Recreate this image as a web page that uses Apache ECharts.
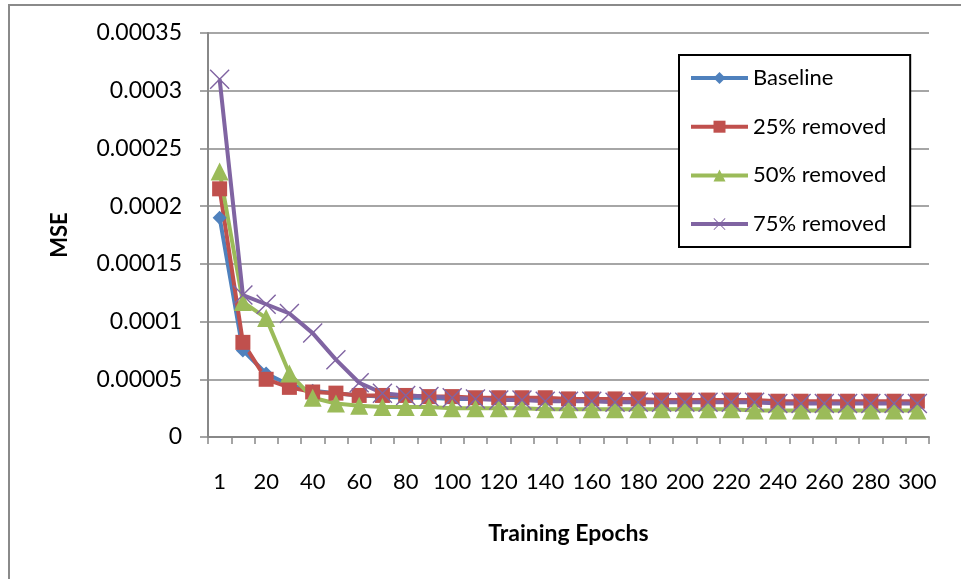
<!DOCTYPE html>
<html>
<head>
<meta charset="utf-8">
<script src="https://cdn.jsdelivr.net/npm/echarts@6/dist/echarts.min.js"></script>
<style>
  html, body { margin: 0; padding: 0; background: #fff; }
  #main { width: 961px; height: 579px; }
</style>
</head>
<body>
<div id="main"></div>
<script>
// epochs on the category axis
var epochs = [1, 10, 20, 30, 40, 50, 60, 70, 80, 90, 100, 110, 120, 130, 140, 150,
  160, 170, 180, 190, 200, 210, 220, 230, 240, 250, 260, 270, 280, 290, 300];

var baseline = [0.00019, 0.000075, 0.000055, 0.000045, 0.00004, 0.000038, 0.000036, 0.000035,
  0.000034, 0.000034, 0.000033, 0.000033, 0.000033, 0.000032, 0.000032, 0.000032, 0.000032,
  0.000031, 0.000031, 0.000031, 0.000031, 0.000031, 0.000031, 0.00003, 0.00003, 0.00003,
  0.00003, 0.00003, 0.00003, 0.00003, 0.00003];

var removed25 = [0.000215, 0.000082, 0.00005, 0.000043, 0.000039, 0.000038, 0.000036, 0.000036,
  0.000036, 0.000035, 0.000035, 0.000034, 0.000034, 0.000034, 0.000034, 0.000033, 0.000033,
  0.000033, 0.000033, 0.000032, 0.000032, 0.000032, 0.000032, 0.000032, 0.000031, 0.000031,
  0.000031, 0.000031, 0.000031, 0.000031, 0.000031];

var removed50 = [0.00023, 0.000117, 0.000103, 0.000055, 0.000034, 0.000029, 0.000027, 0.000026,
  0.000026, 0.000026, 0.000025, 0.000025, 0.000025, 0.000025, 0.000024, 0.000024, 0.000024,
  0.000024, 0.000024, 0.000024, 0.000024, 0.000024, 0.000024, 0.000023, 0.000023, 0.000023,
  0.000023, 0.000023, 0.000023, 0.000023, 0.000023];

var removed75 = [0.00031, 0.000123, 0.000115, 0.000107, 0.00009, 0.000067, 0.000047, 0.000038,
  0.000036, 0.000035, 0.000034, 0.000033, 0.000032, 0.000032, 0.000031, 0.000031, 0.000031,
  0.00003, 0.00003, 0.00003, 0.00003, 0.00003, 0.00003, 0.00003, 0.000029, 0.000029,
  0.000029, 0.000029, 0.000029, 0.000029, 0.000029];

var seriesNames = ['Baseline', '25% removed', '50% removed', '75% removed'];

var chart = echarts.init(document.getElementById('main'), null, { renderer: 'canvas' });

var font = 'Lato, "Open Sans", sans-serif';
var gridColor = '#888888';
var xMark = 'path://M0,1L1,0L20,19L19,20Z M19,0L20,1L1,20L0,19Z';

function lineSeries(name, data, color, symbol, size) {
  return {
    name: name,
    type: 'line',
    data: data,
    symbol: symbol,
    symbolSize: size,
    showAllSymbol: true,
    lineStyle: { color: color, width: 4 },
    itemStyle: { color: color },
    emphasis: { disabled: true },
    animation: false
  };
}

var option = {
  backgroundColor: '#fff',
  animation: false,
  textStyle: { fontFamily: font },
  graphic: [{
    type: 'rect',
    shape: { x: 9, y: 5, width: 1000, height: 620 },
    style: { fill: 'none', stroke: '#8a8a8a', lineWidth: 2 },
    silent: true
  }],
  grid: { left: 208, right: 32, top: 33, bottom: 142, containLabel: false },
  legend: {
    orient: 'vertical',
    left: 679,
    top: 55,
    padding: [11, 24, 11, 10],
    itemWidth: 57,
    itemHeight: 15,
    itemGap: 24.7,
    borderColor: '#000',
    borderWidth: 2,
    backgroundColor: '#fff',
    lineStyle: { width: 4 },
    textStyle: { fontFamily: font, fontSize: 22, color: '#000', lineHeight: 24 },
    data: seriesNames
  },
  xAxis: {
    type: 'category',
    data: epochs,
    boundaryGap: true,
    name: 'Training Epochs',
    nameLocation: 'middle',
    nameGap: 85,
    nameTextStyle: { fontFamily: font, fontSize: 23, fontWeight: 'bold', color: '#000' },
    axisLine: { lineStyle: { color: gridColor, width: 2 } },
    axisTick: { show: true, interval: 0, length: 7, lineStyle: { color: gridColor, width: 1.5 } },
    axisLabel: { interval: 1, margin: 34, fontFamily: font, fontSize: 22, color: '#000' },
    splitLine: { show: false }
  },
  yAxis: {
    type: 'value',
    min: 0,
    max: 0.00035,
    interval: 0.00005,
    name: 'MSE',
    nameLocation: 'middle',
    nameGap: 137,
    nameRotate: 90,
    nameTextStyle: { fontFamily: font, fontSize: 22, fontWeight: 'bold', color: '#000' },
    axisLine: { show: true, lineStyle: { color: gridColor, width: 2 } },
    axisTick: { show: true, length: 8, lineStyle: { color: gridColor, width: 1.5 } },
    axisLabel: {
      margin: 26, fontFamily: font, fontSize: 23, color: '#000',
      formatter: function (v) { return String(+v.toFixed(5)); }
    },
    splitLine: { lineStyle: { color: gridColor, width: 1.5 } }
  },
  series: [
    lineSeries(seriesNames[0], baseline, '#4F81BD', 'diamond', 14),
    lineSeries(seriesNames[1], removed25, '#C0504D', 'rect', 15),
    lineSeries(seriesNames[2], removed50, '#9BBB59', 'triangle', 18),
    lineSeries(seriesNames[3], removed75, '#8064A2', xMark, 20)
  ]
};

chart.setOption(option);
</script>
</body>
</html>
